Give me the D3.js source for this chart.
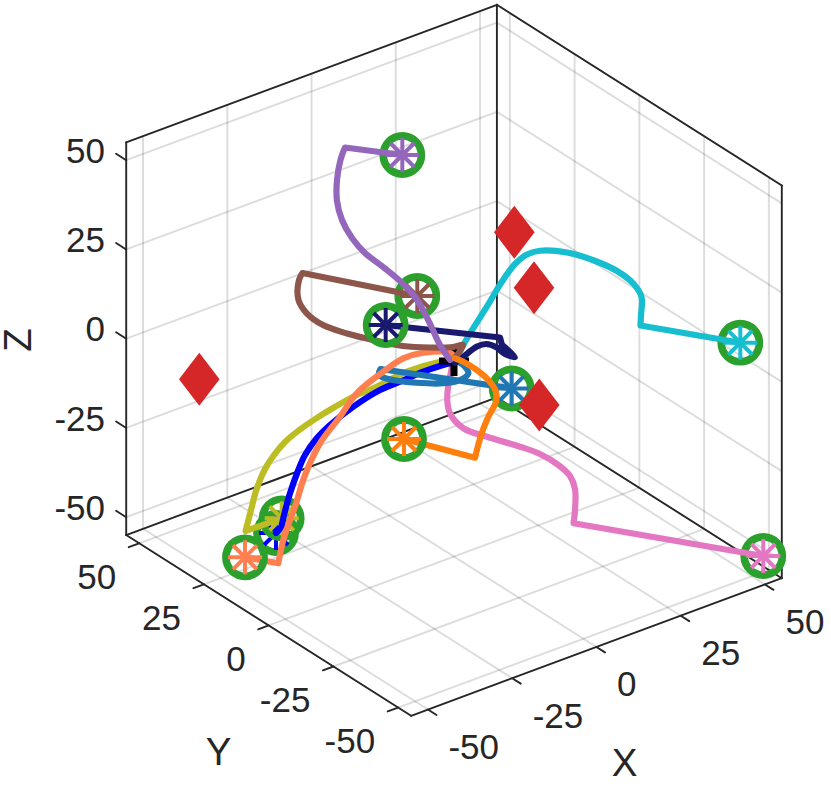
<!DOCTYPE html>
<html>
<head>
<meta charset="utf-8">
<script src="https://cdn.jsdelivr.net/npm/d3@7/dist/d3.min.js"></script>
<style>
html,body{margin:0;padding:0;background:#fff;overflow:hidden}
text{font-family:"Liberation Sans",Arial,sans-serif;fill:#262626}
</style>
</head>
<body>
<script>
// Axis definitions
const tickValues = [-50, -25, 0, 25, 50];
const axisLimit = 55;

// Trajectories in view-plane coordinates [u, w]
// (the horizontal and vertical axes of the image plane; the origin is the X=Y=Z=0 point)
const purplePath = [[-12.92,51.25],[-27.25,53.12],[-28.38,50],[-29.25,45],[-29.25,39.75],[-28,35],[-25.5,30.5],[-22.25,26.75],[-17.25,22.88],[-13.25,19.5],[-9.75,15.75],[-7.75,12.5],[-5.62,8.25],[-3.5,3.75],[-1,0]];
const brownPath = [[-9.18,16],[-37.88,21.75],[-38.75,20],[-38.88,15],[-36.75,11.62],[-32.75,8.75],[-26.75,6.62],[-20.25,5],[-12.75,3.5],[-6,3.12],[-0.25,3.25],[2.25,3.75],[0.25,0.5]];
const navyPath = [[-17.08,8.75],[11.5,5.62],[12,3.75],[15.25,0.75],[12.75,1.5],[10.5,3.25],[8.12,4],[5.75,3.38],[2.25,0.75],[0.25,-0.75]];
const cyanPath = [[71.58,4.32],[46.62,8.62],[46.75,11.25],[46.88,15.75],[44.82,19.12],[40.75,22.25],[35,24.88],[28.25,26.88],[21.5,27.32],[18.25,26.38],[15.25,24],[12,19.62],[8.25,13.38],[4,6.62],[0.5,0.5]];
const pinkPath = [[77.32,-49],[29.88,-40.82],[30.25,-37.5],[30.25,-32.25],[29,-29],[26.08,-26.25],[21.5,-23.5],[16.5,-21.68],[8.25,-19.18],[2.38,-17.08],[-1,-13.38],[-1.68,-10],[-1.42,-6.25],[-0.75,-3],[-0.25,-0.5]];
const orangePath = [[-12.5,-19.75],[5.25,-24.42],[6.92,-18.32],[8.58,-14.18],[10.5,-10.42],[10.5,-7.92],[8.58,-5],[5.68,-2.5],[2.32,-0.42],[0.25,0.42]];
const steelPath = [[14.42,-7.12],[-18.38,-2.25],[-18.75,-3.75],[-15.18,-5],[-9.32,-5.68],[-2.68,-5.82],[1.5,-5],[3.58,-3.32],[2.75,-1.68],[1,-0.42]];
const bluePath = [[-44.5,-43.25],[-43.25,-41.75],[-42.5,-38.75],[-41,-33.32],[-38.92,-27.5],[-37.25,-23.75],[-34.32,-19.58],[-31,-16.25],[-25.18,-11.68],[-18.5,-7.5],[-13.5,-5.42],[-7.68,-2.92],[-1.82,-1],[-0.5,-0.75]];
const coralPath = [[-52.25,-49.32],[-43.92,-50.82],[-42.68,-45],[-41,-40],[-39.75,-36.68],[-37.25,-28.75],[-33.5,-20.82],[-28.5,-14.18],[-24.32,-8.32],[-17.68,-2.92],[-12.68,0.42],[-7.68,1.82],[-1,1.82],[0.25,0.42]];
const olivePath = [[-43.08,-39.58],[-52.12,-42.75],[-50.75,-37.5],[-49.5,-32.75],[-47.5,-27.75],[-45,-23.75],[-42,-20.25],[-38.5,-17.38],[-34.5,-14.62],[-30.25,-12],[-24.32,-8.75],[-20.18,-7.08],[-11.82,-2.92],[-3.5,-0.42],[-0.25,0]];

const targetPoints = [[-63.68,-4.82],[15.08,31.92],[20,18.08],[21.32,-11.25]];
const originPoint = [0,-0.25];

// Colours
const pathColors = {
  purple:"#9467bd", brown:"#8c564b", navy:"#191970", cyan:"#17becf", pink:"#e377c2",
  orange:"#ff7f0e", steel:"#1f77b4", blue:"#0000ff", coral:"#ff7f50", olive:"#bcbd22"
};
const paths = {purple:purplePath, brown:brownPath, navy:navyPath, cyan:cyanPath, pink:pinkPath,
  orange:orangePath, steel:steelPath, blue:bluePath, coral:coralPath, olive:olivePath};
const straightSegments = {purple:1, brown:1, navy:2, cyan:1, pink:1, orange:1, steel:1, blue:0, coral:1, olive:1};

const W = 831, H = 786;
const svg = d3.select("body").append("svg").attr("width",W).attr("height",H)
  .style("display","block").style("background","#fff");

// Scales from the view plane to the page
const uScale = d3.scaleLinear().domain([-113.5, 94.25]).range([0, W]);
const wScale = d3.scaleLinear().domain([90, -106.5]).range([0, H]);

// Orthographic 3-D projection onto the view plane
function project(X, Y, Z){
  return [0.8425*X - 0.6475*Y, 0.3127*X + 0.4107*Y + 0.8925*Z - 0.07];
}
const px = p => uScale(p[0]);
const py = p => wScale(p[1]);
const P3 = (X,Y,Z) => { const p = project(X,Y,Z); return [px(p),py(p)]; };

const L = axisLimit;
function seg(g, a, b, attrs){
  const A = P3(...a), B = P3(...b);
  const l = g.append("line").attr("x1",A[0]).attr("y1",A[1]).attr("x2",B[0]).attr("y2",B[1]);
  Object.entries(attrs).forEach(([k,v])=>l.attr(k,v));
}

// Grid
const grid = svg.append("g");
const gridStyle = {stroke:"#262626","stroke-opacity":0.16,"stroke-width":1.9};
tickValues.forEach(t=>{
  seg(grid,[t,-L,-L],[t,L,-L],gridStyle);
  seg(grid,[t,L,-L],[t,L,L],gridStyle);
  seg(grid,[-L,t,-L],[L,t,-L],gridStyle);
  seg(grid,[L,t,-L],[L,t,L],gridStyle);
  seg(grid,[-L,L,t],[L,L,t],gridStyle);
  seg(grid,[L,-L,t],[L,L,t],gridStyle);
});

// Box and axes
const axes = svg.append("g");
const axStyle = {stroke:"#262626","stroke-width":1.9,"stroke-linecap":"round"};
[
 [[-L,-L,-L],[L,-L,-L]], [[-L,-L,-L],[-L,L,-L]],
 [[-L,L,-L],[L,L,-L]], [[L,-L,-L],[L,L,-L]],
 [[-L,L,-L],[-L,L,L]], [[L,L,-L],[L,L,L]], [[L,-L,-L],[L,-L,L]],
 [[-L,L,L],[L,L,L]], [[L,-L,L],[L,L,L]]
].forEach(([a,b])=>seg(axes,a,b,axStyle));

// Ticks
const tickLen = {x:3.3, y:3.1, z:3.9};
tickValues.forEach(t=>{
  seg(axes,[t,-L,-L],[t,-L-tickLen.x,-L],axStyle);
  seg(axes,[-L,t,-L],[-L-tickLen.y,t,-L],axStyle);
  seg(axes,[-L,L,t],[-L,L+tickLen.z,t],axStyle);
});

// Tick labels
const fmt = d => String(d);
const labels = svg.append("g").attr("font-size",35);
tickValues.forEach(t=>{
  let a = P3(t,-L,-L);
  labels.append("text").attr("x",a[0]+20.5).attr("y",a[1]+36.7).attr("dy","0.36em").attr("text-anchor","start").text(fmt(t));
  a = P3(-L,t,-L);
  labels.append("text").attr("x",a[0]-23).attr("y",a[1]+33).attr("dy","0.36em").attr("text-anchor","end").text(fmt(t));
  a = P3(-L,L,t);
  labels.append("text").attr("x",105).attr("y",a[1]-10).attr("dy","0.36em").attr("text-anchor","end").text(fmt(t));
});

// Axis titles
const titles = svg.append("g").attr("font-size",38.5).attr("text-anchor","middle");
titles.append("text").attr("x",624.7).attr("y",762).attr("dy","0.36em").text("X");
titles.append("text").attr("x",218.5).attr("y",751.5).attr("dy","0.36em").text("Y");
titles.append("text").attr("transform","translate(17,340) rotate(-90)").attr("dy","0.36em").text("Z");

// Marks
const marks = svg.append("g");
const lineStraight = d3.line().x(px).y(py);
const lineSmooth = d3.line().x(px).y(py).curve(d3.curveCatmullRom.alpha(0.5));
function drawPath(name){
  const pts = paths[name], k = straightSegments[name];
  let d = k>0 ? lineStraight(pts.slice(0,k+1)) : "";
  const tail = lineSmooth(pts.slice(k));
  d += k>0 ? tail.replace(/^M/,"L") : tail;
  marks.append("path").attr("d",d).attr("fill","none").attr("stroke",pathColors[name])
    .attr("stroke-width",6.2).attr("stroke-linejoin","round").attr("stroke-linecap","round");
}
const spokes = d3.range(4).map(i=>i*Math.PI/4);
function drawRing(name){
  const c = paths[name][0], x = px(c), y = py(c), g = marks.append("g");
  g.append("circle").attr("cx",x).attr("cy",y).attr("r",19.1).attr("fill","none")
    .attr("stroke","#2ca02c").attr("stroke-width",7.6);
  spokes.forEach(a=>{
    g.append("line").attr("x1",x-17*Math.cos(a)).attr("y1",y-17*Math.sin(a))
      .attr("x2",x+17*Math.cos(a)).attr("y2",y+17*Math.sin(a))
      .attr("stroke",pathColors[name]).attr("stroke-width",4);
  });
}
["pink","cyan","purple","brown","steel","blue","olive"].forEach(drawRing);
["pink","cyan","olive","blue"].forEach(drawPath);
// origin marker
{
  const x = px(originPoint), y = py(originPoint);
  marks.append("path").attr("d",`M${x-15},${y}H${x+15}M${x},${y-15}V${y+15}`)
    .attr("fill","none").attr("stroke","#000").attr("stroke-width",7);
}
["steel","coral"].forEach(drawPath);
drawRing("coral");
drawPath("navy");
drawPath("brown");
drawRing("navy");
drawPath("purple");
drawPath("orange");
drawRing("orange");

// Diamonds
marks.selectAll("path.target").data(targetPoints).join("path").attr("class","target")
  .attr("d",d=>{const x=px(d),y=py(d);return `M${x},${y-26.5}L${x+20.3},${y}L${x},${y+26.5}L${x-20.3},${y}Z`;})
  .attr("fill","#d62728");
</script>
</body>
</html>
